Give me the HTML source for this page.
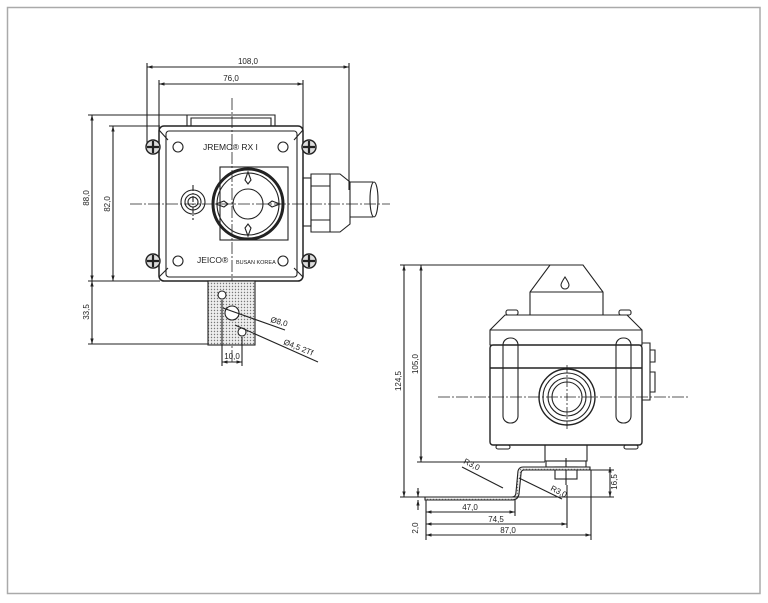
<!DOCTYPE html>
<html><head><meta charset="utf-8"><style>
html,body{margin:0;padding:0;background:#fff;}
svg{display:block;font-family:"Liberation Sans",sans-serif;}
</style></head><body>
<svg width="768" height="603" viewBox="0 0 768 603" xmlns="http://www.w3.org/2000/svg">
<defs>
<marker id="a" viewBox="0 0 10 10" refX="10" refY="5" markerWidth="5" markerHeight="5" orient="auto-start-reverse"><path d="M0,2L10,5L0,8z" fill="#222"/></marker>
<pattern id="dots" width="3" height="3" patternUnits="userSpaceOnUse"><rect width="3" height="3" fill="#eee"/><circle cx="1.5" cy="1.5" r="0.7" fill="#777"/></pattern>
</defs>
<rect x="7.5" y="7.5" width="752.5" height="586" fill="#fff" stroke="#aaa" stroke-width="1.5"/>
<g stroke="#222" fill="none" stroke-width="1.1">
<line x1="147" y1="67" x2="349" y2="67" marker-start="url(#a)" marker-end="url(#a)"/>
<line x1="147" y1="63" x2="147" y2="145"/><line x1="349" y1="63" x2="349" y2="190"/>
<line x1="159" y1="84" x2="303" y2="84" marker-start="url(#a)" marker-end="url(#a)"/>
<line x1="159" y1="80" x2="159" y2="130"/><line x1="303" y1="80" x2="303" y2="130"/>
<line x1="92" y1="115" x2="92" y2="281" marker-start="url(#a)" marker-end="url(#a)"/>
<line x1="88" y1="115" x2="188" y2="115"/>
<line x1="113" y1="126" x2="113" y2="281" marker-start="url(#a)" marker-end="url(#a)"/>
<line x1="109" y1="126" x2="160" y2="126"/>
<line x1="88" y1="281" x2="160" y2="281"/>
<line x1="92" y1="281" x2="92" y2="344" marker-start="url(#a)" marker-end="url(#a)"/>
<line x1="88" y1="344" x2="210" y2="344"/>
<path d="M187,126 V115 H275 V126" /><path d="M191,126 V118 H271 V126"/>
<rect x="159" y="126" width="144" height="155" rx="5" stroke-width="1.5"/>
<rect x="166" y="131" width="131" height="146" rx="3"/>
<line x1="159" y1="130" x2="168" y2="140"/><line x1="303" y1="130" x2="294" y2="140"/>
<line x1="159" y1="277" x2="168" y2="268"/><line x1="303" y1="277" x2="294" y2="268"/>
<g stroke-width="1.4">
<circle cx="153" cy="147" r="7" fill="#ddd"/><circle cx="309" cy="147" r="7" fill="#ddd"/><circle cx="153" cy="261" r="7" fill="#ddd"/><circle cx="309" cy="261" r="7" fill="#ddd"/>
<path d="M147,147h12M153,141v12M303,147h12M309,141v12M147,261h12M153,255v12M303,261h12M309,255v12" stroke-width="2.2"/>
</g>
<circle cx="178" cy="147" r="5"/><circle cx="283" cy="147" r="5"/><circle cx="178" cy="261" r="5"/><circle cx="283" cy="261" r="5"/>
<rect x="220" y="167" width="68" height="73"/>
<circle cx="248" cy="204" r="35" stroke-width="3"/>
<circle cx="248" cy="204" r="31"/>
<circle cx="248" cy="204" r="15"/>
<path d="M248,172 l-3,8 3,4 3,-4z M248,236 l-3,-8 3,-4 3,4z M216,204 l8,-3 4,3 -4,3z M280,204 l-8,-3 -4,3 4,3z"/>
<circle cx="193" cy="202" r="12"/><circle cx="193" cy="202" r="8"/><circle cx="193" cy="202" r="5"/>
<line x1="193" y1="185" x2="193" y2="220" stroke-dasharray="6,2,1,2"/>
<rect x="303" y="178" width="8" height="48"/>
<path d="M311,174 H340 L350,182 V224 L340,232 H311 Z"/>
<line x1="330" y1="174" x2="330" y2="232"/><line x1="311" y1="186" x2="330" y2="186"/><line x1="311" y1="220" x2="330" y2="220"/>
<path d="M350,182 H373 M350,217 H373"/><ellipse cx="374" cy="199.5" rx="4" ry="17.5"/>
<line x1="130" y1="204" x2="390" y2="204" stroke-dasharray="12,2,2,2" stroke-width="0.8"/>
<line x1="232" y1="98" x2="232" y2="363" stroke-dasharray="12,2,2,2" stroke-width="0.8"/>
<rect x="208" y="281" width="47" height="64" fill="url(#dots)"/>
<circle cx="222" cy="295" r="4" fill="#fff"/><circle cx="232" cy="313" r="7" fill="#fff"/><circle cx="242" cy="332" r="4" fill="#fff"/>
<line x1="222" y1="300" x2="222" y2="366"/><line x1="242" y1="337" x2="242" y2="366"/>
<line x1="222" y1="362" x2="242" y2="362" marker-start="url(#a)" marker-end="url(#a)"/>
<line x1="223" y1="308" x2="285" y2="330"/><line x1="235" y1="325" x2="318" y2="362"/>
<line x1="400" y1="265" x2="583" y2="265"/>
<line x1="404" y1="265" x2="404" y2="497" marker-start="url(#a)" marker-end="url(#a)"/>
<line x1="421" y1="265" x2="421" y2="462" marker-start="url(#a)" marker-end="url(#a)"/>
<line x1="417" y1="462" x2="545" y2="462"/>
<line x1="400" y1="497" x2="425" y2="497"/>
<path d="M550,265 H583 L603,292 V315 H530 V292 Z"/><line x1="530" y1="292" x2="603" y2="292"/>
<path d="M565,277 q-4,6 -4,8 a4,4 0 0 0 8,0 q0,-2 -4,-8z"/>
<path d="M505,315 H627 L642,330 V345 H490 V330 Z"/><line x1="490" y1="330" x2="642" y2="330"/>
<rect x="506" y="310" width="12" height="5" rx="2"/><rect x="619" y="310" width="12" height="5" rx="2"/>
<rect x="490" y="345" width="152" height="100" rx="3" stroke-width="1.4"/>
<line x1="490" y1="368" x2="642" y2="368" stroke-width="1.6"/>
<rect x="503" y="338" width="15" height="85" rx="7"/><rect x="616" y="338" width="15" height="85" rx="7"/>
<rect x="496" y="445" width="14" height="4" rx="2"/><rect x="624" y="445" width="14" height="4" rx="2"/>
<path d="M642,343 h8 v57 h-8 M650,350 h5 v12 h-5 M650,372 h5 v20 h-5"/>
<circle cx="567" cy="397" r="28" stroke-width="1.4"/><circle cx="567" cy="397" r="24"/><circle cx="567" cy="397" r="19"/><circle cx="567" cy="397" r="15"/>
<line x1="438" y1="397" x2="690" y2="397" stroke-dasharray="12,2,2,2" stroke-width="0.8"/>
<line x1="567" y1="365" x2="567" y2="430" stroke-dasharray="8,2,2,2" stroke-width="0.8"/>
<path d="M545,445 V461 H587 V445"/>
<rect x="546" y="461" width="40" height="6"/>
<rect x="555" y="467" width="22" height="12"/><line x1="566" y1="458" x2="566" y2="485"/>
<path d="M425,497 H512 Q516,497 516,492 L518,471 Q519,467 523,467 H590 V470 H524 Q521,470 521,474 L519,494 Q518,500 512,500 H425 Z" fill="url(#dots)"/>
<line x1="590" y1="470" x2="614" y2="470"/>
<line x1="610" y1="467" x2="610" y2="497" marker-start="url(#a)" marker-end="url(#a)"/>
<line x1="512" y1="497" x2="614" y2="497"/>
<line x1="418" y1="488" x2="418" y2="497" marker-end="url(#a)"/><line x1="418" y1="510" x2="418" y2="500" marker-end="url(#a)"/>
<line x1="426" y1="500" x2="426" y2="540"/>
<line x1="515" y1="500" x2="515" y2="516"/><line x1="567" y1="485" x2="567" y2="528"/><line x1="591" y1="470" x2="591" y2="540"/>
<line x1="426" y1="512" x2="515" y2="512" marker-start="url(#a)" marker-end="url(#a)"/>
<line x1="426" y1="524" x2="567" y2="524" marker-start="url(#a)" marker-end="url(#a)"/>
<line x1="426" y1="535" x2="591" y2="535" marker-start="url(#a)" marker-end="url(#a)"/>
<line x1="462" y1="467" x2="503" y2="488"/><line x1="519" y1="478" x2="562" y2="499"/>
</g>
<g font-size="8" fill="#222">
<text x="248" y="64" text-anchor="middle">108,0</text>
<text x="231" y="81" text-anchor="middle">76,0</text>
<text transform="translate(89,198) rotate(-90)" text-anchor="middle">88,0</text>
<text transform="translate(110,204) rotate(-90)" text-anchor="middle">82,0</text>
<text transform="translate(89,312) rotate(-90)" text-anchor="middle">33,5</text>
<text x="232" y="359" text-anchor="middle">10,0</text>
<text transform="translate(270,322) rotate(15)">Ø8,0</text>
<text transform="translate(283,344) rotate(22)">Ø4,5  2Tf</text>
<text x="203" y="150" font-size="8.5">JREMO® RX I</text>
<text x="197" y="263" font-size="8.5">JEICO®</text>
<text x="236" y="264" font-size="5.5">BUSAN KOREA</text>
<text transform="translate(401,381) rotate(-90)" text-anchor="middle">124,5</text>
<text transform="translate(418,364) rotate(-90)" text-anchor="middle">105,0</text>
<text transform="translate(617,482) rotate(-90)" text-anchor="middle">16,5</text>
<text transform="translate(418,528) rotate(-90)" text-anchor="middle">2,0</text>
<text x="470" y="510" text-anchor="middle">47,0</text>
<text x="496" y="522" text-anchor="middle">74,5</text>
<text x="508" y="533" text-anchor="middle">87,0</text>
<text transform="translate(463,463) rotate(27)">R3,0</text>
<text transform="translate(550,490) rotate(27)">R3,0</text>
</g>
</svg>
</body></html>
